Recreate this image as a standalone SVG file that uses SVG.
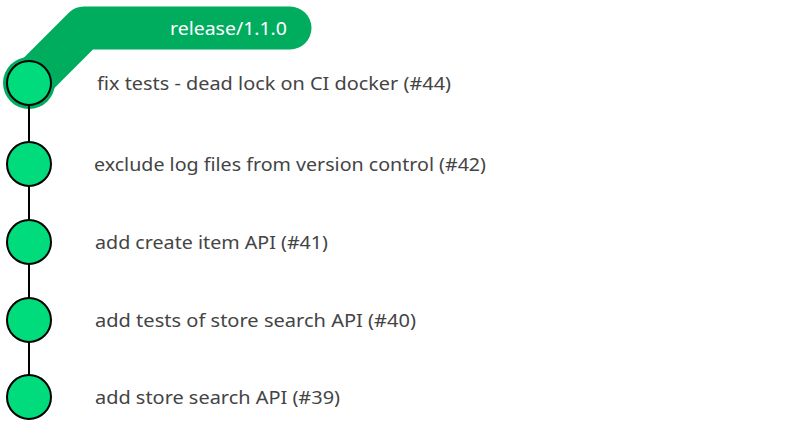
<svg xmlns="http://www.w3.org/2000/svg" width="790" height="425" viewBox="0 0 790 425">
<style>
.node{fill:#00dc7b;stroke:#000;stroke-width:2}
.lbl{font-family:"Noto Sans","Liberation Sans",sans-serif;font-size:18px;fill:#444}
.edge{stroke:#000;stroke-width:2;fill:none}
.br{font-family:"Noto Sans","Liberation Sans",sans-serif;font-size:18px;fill:#fff}
</style>
<rect width="790" height="425" fill="#fff"/>
<g id="branch">
<circle cx="29" cy="83" r="26" fill="#00ad5f"/>
<path d="M29,83 L84,28 L290,28" stroke="#00ad5f" stroke-width="43" stroke-linecap="round" stroke-linejoin="round" fill="none"/>
<text class="br" x="170" y="35" textLength="117" lengthAdjust="spacingAndGlyphs">release/1.1.0</text>
</g>
<g id="connectors">
<line class="edge" x1="29" y1="105" x2="29" y2="142"/>
<line class="edge" x1="29" y1="186" x2="29" y2="220"/>
<line class="edge" x1="29" y1="264" x2="29" y2="298"/>
<line class="edge" x1="29" y1="342" x2="29" y2="375"/>
</g>
<g id="c44"><circle class="node" cx="29" cy="83" r="22"/><text class="lbl" x="97" y="90" textLength="354" lengthAdjust="spacingAndGlyphs">fix tests - dead lock on CI docker (#44)</text></g>
<g id="c42"><circle class="node" cx="29" cy="164" r="22"/><text class="lbl" x="94" y="171" textLength="392" lengthAdjust="spacingAndGlyphs">exclude log files from version control (#42)</text></g>
<g id="c41"><circle class="node" cx="29" cy="242" r="22"/><text class="lbl" x="95" y="249" textLength="233" lengthAdjust="spacingAndGlyphs">add create item API (#41)</text></g>
<g id="c40"><circle class="node" cx="29" cy="320" r="22"/><text class="lbl" x="95" y="327" textLength="321" lengthAdjust="spacingAndGlyphs">add tests of store search API (#40)</text></g>
<g id="c39"><circle class="node" cx="29" cy="397" r="22"/><text class="lbl" x="95" y="404" textLength="245" lengthAdjust="spacingAndGlyphs">add store search API (#39)</text></g>
</svg>
